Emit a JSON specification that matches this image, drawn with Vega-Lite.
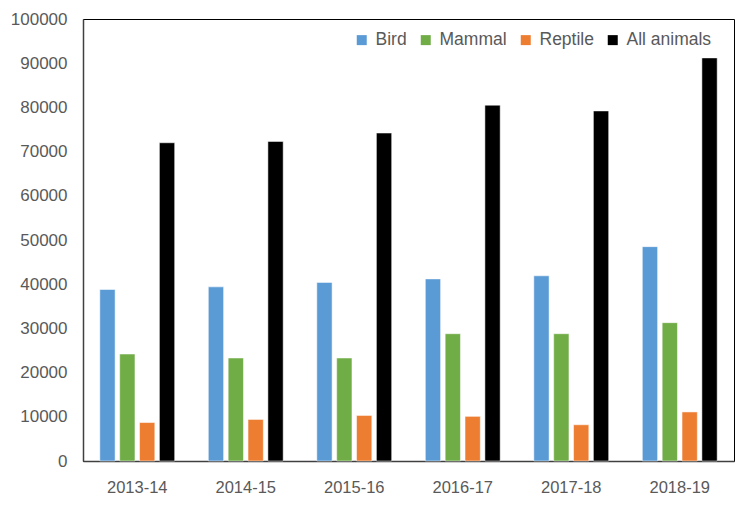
{
  "$schema": "https://vega.github.io/schema/vega-lite/v6.json",
  "autosize": "none",
  "width": 651,
  "height": 442,
  "padding": {"left": 83, "top": 19, "right": 16, "bottom": 66},
  "background": "white",
  "data": {
    "values": [
      {"year": "2013-14", "group": "Bird", "value": 38800},
      {"year": "2013-14", "group": "Mammal", "value": 24200},
      {"year": "2013-14", "group": "Reptile", "value": 8700},
      {"year": "2013-14", "group": "All animals", "value": 72000},
      {"year": "2014-15", "group": "Bird", "value": 39400},
      {"year": "2014-15", "group": "Mammal", "value": 23300},
      {"year": "2014-15", "group": "Reptile", "value": 9400},
      {"year": "2014-15", "group": "All animals", "value": 72300},
      {"year": "2015-16", "group": "Bird", "value": 40400},
      {"year": "2015-16", "group": "Mammal", "value": 23300},
      {"year": "2015-16", "group": "Reptile", "value": 10300},
      {"year": "2015-16", "group": "All animals", "value": 74200},
      {"year": "2016-17", "group": "Bird", "value": 41200},
      {"year": "2016-17", "group": "Mammal", "value": 28800},
      {"year": "2016-17", "group": "Reptile", "value": 10100},
      {"year": "2016-17", "group": "All animals", "value": 80500},
      {"year": "2017-18", "group": "Bird", "value": 41900},
      {"year": "2017-18", "group": "Mammal", "value": 28800},
      {"year": "2017-18", "group": "Reptile", "value": 8200},
      {"year": "2017-18", "group": "All animals", "value": 79200},
      {"year": "2018-19", "group": "Bird", "value": 48500},
      {"year": "2018-19", "group": "Mammal", "value": 31300},
      {"year": "2018-19", "group": "Reptile", "value": 11100},
      {"year": "2018-19", "group": "All animals", "value": 91200}
    ]
  },
  "mark": {"type": "bar", "stroke": "white", "strokeWidth": 0.5},
  "encoding": {
    "x": {
      "field": "year",
      "type": "nominal",
      "sort": null,
      "scale": {"paddingInner": 0.31, "paddingOuter": 0.155},
      "axis": {
        "title": null,
        "labelAngle": 0,
        "ticks": false,
        "labelPadding": 18,
        "labelFont": "Liberation Sans",
        "labelFontSize": 16.5,
        "labelColor": "#595959",
        "domainColor": "#404040",
        "domainWidth": 1.5
      }
    },
    "xOffset": {
      "field": "group",
      "type": "nominal",
      "sort": ["Bird", "Mammal", "Reptile", "All animals"],
      "scale": {"paddingInner": 0.23, "paddingOuter": 0}
    },
    "y": {
      "field": "value",
      "type": "quantitative",
      "scale": {"domain": [0, 100000], "nice": false},
      "axis": {
        "title": null,
        "values": [0, 10000, 20000, 30000, 40000, 50000, 60000, 70000, 80000, 90000, 100000],
        "format": "d",
        "grid": false,
        "ticks": false,
        "labelPadding": 16,
        "labelFont": "Liberation Sans",
        "labelFontSize": 17,
        "labelColor": "#595959",
        "domainColor": "#404040",
        "domainWidth": 1.5
      }
    },
    "color": {
      "field": "group",
      "type": "nominal",
      "sort": ["Bird", "Mammal", "Reptile", "All animals"],
      "scale": {
        "domain": ["Bird", "Mammal", "Reptile", "All animals"],
        "range": ["#5B9BD5", "#70AD47", "#ED7D31", "#000000"]
      },
      "legend": {
        "title": null,
        "orient": "none",
        "direction": "horizontal",
        "legendX": 270,
        "legendY": 12,
        "symbolType": "square",
        "symbolSize": 100,
        "symbolStrokeWidth": 0,
        "labelFont": "Liberation Sans",
        "labelFontSize": 17.5,
        "labelColor": "#595959",
        "columnPadding": 10,
        "labelOffset": 5
      }
    }
  },
  "config": {
    "view": {"stroke": "#000000", "strokeWidth": 1}
  }
}
